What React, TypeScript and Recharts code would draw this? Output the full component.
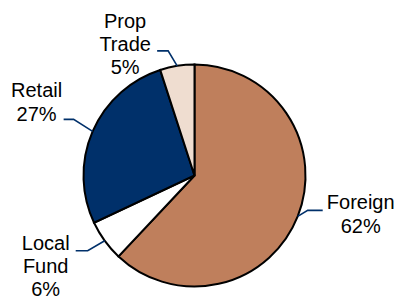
import React from "react";
import { PieChart, Pie, Cell } from "recharts";

const categories = ["Foreign", "Local Fund", "Retail", "Prop Trade"];
const shares = [62, 6, 27, 5];
const colors = ["#BF7F5C", "#FFFFFF", "#00306A", "#EFDDD0"];

const data = categories.map((name, i) => ({ name, value: shares[i] }));

// label layout offsets relative to the slice's edge point
const layout = [
  { ex: 10, ey: -6, lx: 25, tx: 63, ty: -7 },
  { ex: -17, ey: 10, lx: -29, tx: -59, ty: 9 },
  { ex: -19, ey: -12, lx: -29, tx: -56, ty: -34 },
  { ex: -9, ey: -15, lx: -20, tx: -52, ty: -38 },
];

const RADIAN = Math.PI / 180;

const renderLabel = (props: any) => {
  const { cx, cy, midAngle, outerRadius, index } = props;
  const x0 = cx + outerRadius * Math.cos(-midAngle * RADIAN);
  const y0 = cy + outerRadius * Math.sin(-midAngle * RADIAN);
  const l = layout[index];
  const lines = [...categories[index].split(" "), `${shares[index]}%`];
  return (
    <g key={`lbl-${index}`}>
      <polyline
        points={`${x0},${y0} ${x0 + l.ex},${y0 + l.ey} ${x0 + l.lx},${y0 + l.ey}`}
        fill="none"
        stroke="#00306A"
        strokeWidth={1.6}
      />
      <text
        x={x0 + l.tx}
        y={y0 + l.ty}
        textAnchor="middle"
        fontFamily="'Liberation Sans', Arial, sans-serif"
        fontSize={20}
        fill="#000"
      >
        {lines.map((t, j) => (
          <tspan key={j} x={x0 + l.tx} dy={j === 0 ? 0 : 23.3}>
            {t}
          </tspan>
        ))}
      </text>
    </g>
  );
};

export default function App() {
  return (
    <div style={{ position: "absolute", left: 0, top: 0, width: 395, height: 298, background: "#fff" }}>
      <PieChart width={395} height={298} margin={{ top: 0, right: 0, bottom: 0, left: 0 }}>
        <Pie
          data={data}
          dataKey="value"
          nameKey="name"
          cx={194.5}
          cy={175.5}
          outerRadius={111}
          startAngle={90}
          endAngle={-270}
          stroke="#000"
          strokeWidth={2}
          label={renderLabel}
          labelLine={false}
          isAnimationActive={false}
        >
          {data.map((d, i) => (
            <Cell key={d.name} fill={colors[i]} />
          ))}
        </Pie>
      </PieChart>
    </div>
  );
}
